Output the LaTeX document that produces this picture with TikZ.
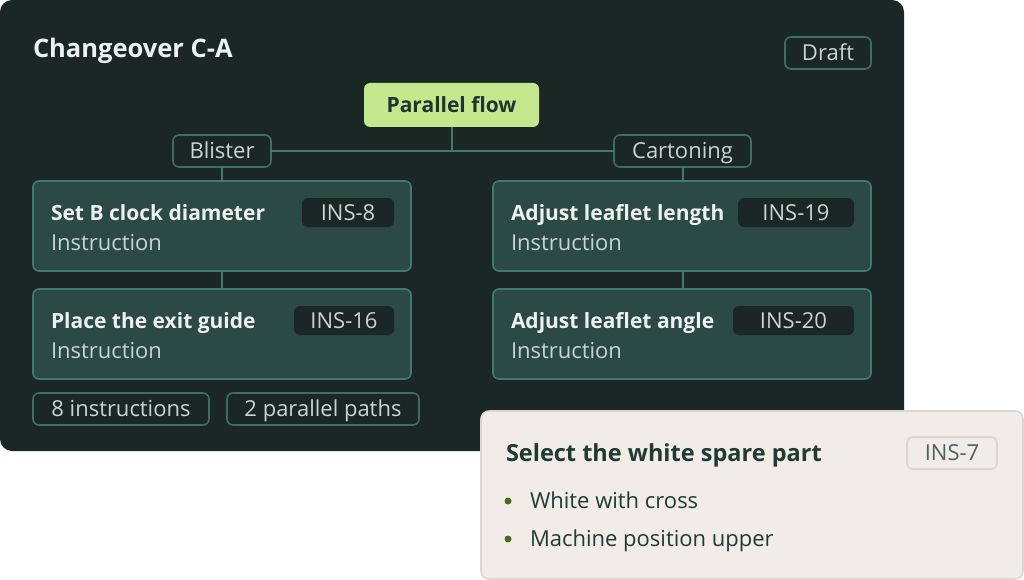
\documentclass[tikz,border=0pt]{standalone}
\usepackage{fontspec}
\setmainfont{Open Sans}
\usetikzlibrary{positioning}

\definecolor{panelbg}{HTML}{1B2725}
\definecolor{cardbg}{HTML}{2B4A43}
\definecolor{cardline}{HTML}{3F7A6A}
\definecolor{tagline}{HTML}{3A6F62}
\definecolor{flowbg}{HTML}{C5E88E}
\definecolor{flowtext}{HTML}{1E3530}
\definecolor{lighttext}{HTML}{EEF1EF}
\definecolor{greytext}{HTML}{CAD4D0}
\definecolor{notebg}{HTML}{F2ECE8}
\definecolor{noteline}{HTML}{DDD6D0}
\definecolor{notetext}{HTML}{1F3B33}
\definecolor{bulletgreen}{HTML}{4A6B1C}

\begin{document}
\begin{tikzpicture}[
  x=1pt, y=-1pt,
  every node/.style={inner sep=0pt, outer sep=0pt},
  tag/.style={draw=tagline, line width=1.6pt, rounded corners=6pt, fill=panelbg,
    text=greytext, font=\fontsize{22}{26}\selectfont, text height=20pt, text depth=4.3pt,
    minimum height=32pt, anchor=north west},
  card/.style={draw=cardline, line width=1.6pt, rounded corners=6pt, fill=cardbg,
    minimum width=378pt, minimum height=90pt, anchor=north west},
  cardtitle/.style={anchor=base west, text=lighttext, font=\fontsize{21}{24}\selectfont\bfseries},
  cardsub/.style={anchor=base west, text=greytext, font=\fontsize{22}{26}\selectfont},
  badge/.style={fill=panelbg, rounded corners=6pt, text=greytext,
    font=\fontsize{22}{26}\selectfont, text height=20pt, text depth=4.3pt,
    minimum height=29pt, anchor=north west},
  link/.style={draw=cardline, line width=2pt}
]
  \useasboundingbox (0,0) rectangle (1024,580);

  % dark panel
  \node[fill=panelbg, rounded corners=12pt, minimum width=904pt, minimum height=451pt,
    anchor=north west] (panel) at (0,0) {};
  \node[anchor=base west, text=lighttext, font=\fontsize{25.5}{30}\selectfont\bfseries]
    (title) at (33,58) {Changeover C-A};
  \node[tag, minimum width=86pt] (draft) at (785,37) {Draft};

  \node[fill=flowbg, rounded corners=6pt, minimum width=175pt, minimum height=44pt,
    text=flowtext, font=\fontsize{21}{24}\selectfont\bfseries, text height=19pt, text depth=4pt,
    anchor=north west] (flow) at (364,83) {Parallel flow};

  \node[tag, minimum width=98pt] (blister) at (173,135) {Blister};
  \node[tag, minimum width=137pt] (carton) at (614,135) {Cartoning};
  \coordinate (fork) at (flow.south |- blister.east);

  \draw[link] (flow.south) -- (fork);
  \draw[link] (blister.east) -- (carton.west);

  % blister path
  \node[card] (setb) at (33,181) {};
  \node[cardtitle] (setbt) at (51,220.5) {Set B clock diameter};
  \node[cardsub] (setbs) at (51,250.5) {Instruction};
  \node[badge, minimum width=92pt] (ins8) at (302,198) {INS-8};

  \node[card] (place) at (33,289) {};
  \node[cardtitle] (placet) at (51,328.5) {Place the exit guide};
  \node[cardsub] (places) at (51,358.5) {Instruction};
  \node[badge, minimum width=100pt] (ins16) at (294,306) {INS-16};

  % cartoning path
  \node[card] (length) at (493,181) {};
  \node[cardtitle] (lengtht) at (511,220.5) {Adjust leaflet length};
  \node[cardsub] (lengths) at (511,250.5) {Instruction};
  \node[badge, minimum width=116pt] (ins19) at (738,198) {INS-19};

  \node[card] (angle) at (493,289) {};
  \node[cardtitle] (anglet) at (511,328.5) {Adjust leaflet angle};
  \node[cardsub] (angles) at (511,358.5) {Instruction};
  \node[badge, minimum width=121pt] (ins20) at (733,306) {INS-20};

  \draw[link] (blister.south) -- (blister.south |- setb.north);
  \draw[link] (blister.south |- setb.south) -- (blister.south |- place.north);
  \draw[link] (carton.south) -- (carton.south |- length.north);
  \draw[link] (carton.south |- length.south) -- (carton.south |- angle.north);

  \node[tag, minimum width=176pt] (count) at (33,393) {8 instructions};
  \node[tag, minimum width=192pt] (paths) at (227,393) {2 parallel paths};

  % detail note
  \node[draw=noteline, line width=1.6pt, fill=notebg, rounded corners=8pt,
    minimum width=542pt, minimum height=168pt, anchor=north west] (note) at (481,411) {};
  \node[anchor=base west, text=notetext, font=\fontsize{23.5}{28}\selectfont\bfseries]
    (notet) at (506,461.5) {Select the white spare part};
  \node[draw=noteline, line width=1.6pt, fill=notebg, rounded corners=6pt, text=notetext!80,
    font=\fontsize{22}{26}\selectfont, text height=20pt, text depth=4.3pt,
    minimum width=90pt, minimum height=32pt, anchor=north west] (ins7) at (907,437) {INS-7};
  \node[circle, fill=bulletgreen, minimum size=7pt] (dot1) at (508,501) {};
  \node[anchor=base west, text=notetext, font=\fontsize{22}{26}\selectfont]
    (item1) at (530,508) {White with cross};
  \node[circle, fill=bulletgreen, minimum size=7pt] (dot2) at (508,539) {};
  \node[anchor=base west, text=notetext, font=\fontsize{22}{26}\selectfont]
    (item2) at (530,546.5) {Machine position upper};
\end{tikzpicture}
\end{document}
